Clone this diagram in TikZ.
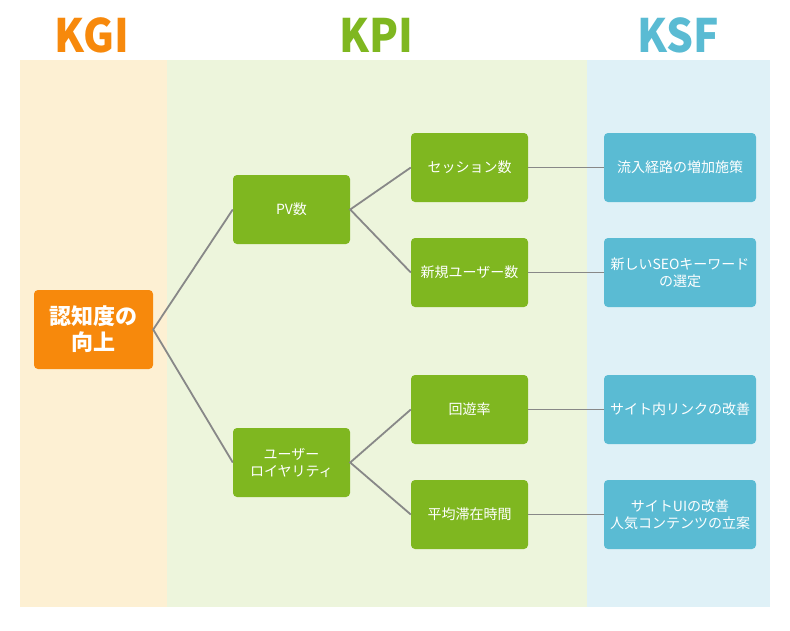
\documentclass[tikz,border=0pt]{standalone}
\usepackage{fontspec}
\setmainfont{Noto Sans CJK JP}
\newfontfamily\cjk{Noto Sans CJK JP}
\definecolor{kgi}{HTML}{F7890C}
\definecolor{kpi}{HTML}{7FB720}
\definecolor{ksf}{HTML}{5ABBD3}
\definecolor{kgibg}{HTML}{FDF0D3}
\definecolor{kpibg}{HTML}{EDF5DC}
\definecolor{ksfbg}{HTML}{DFF1F7}
\definecolor{conn}{HTML}{888888}
\begin{document}
\begin{tikzpicture}[x=1pt,y=-1pt,
  box/.style={rounded corners=4pt,text=white,align=center,inner sep=0pt,font=\cjk\fontsize{14}{17}\selectfont},
  kpibox/.style={box,fill=kpi,minimum width=117pt,minimum height=69pt},
  ksfbox/.style={box,fill=ksf,minimum width=152pt,minimum height=69pt},
  head/.style={font=\cjk\bfseries\fontsize{46}{46}\selectfont,xscale=0.92,inner sep=0pt},
  link/.style={draw=conn,line width=1.8pt}]
\useasboundingbox (0,0) rectangle (790,630);
\fill[kgibg] (20,60) rectangle (167,607);
\fill[kpibg] (167,60) rectangle (587,607);
\fill[ksfbg] (587,60) rectangle (770,607);
\node[head,text=kgi] (hkgi) at (92,35) {KGI};
\node[head,text=kpi] (hkpi) at (376,35) {KPI};
\node[head,text=ksf] (hksf) at (678,35) {KSF};
\node[box,fill=kgi,minimum width=119pt,minimum height=79pt,font=\cjk\bfseries\fontsize{22}{26}\selectfont] (g) at (93.5,329.5) {認知度の\\向上};
\node[kpibox] (pv) at (291.5,209.5) {PV数};
\node[kpibox] (ul) at (291.5,462.5) {ユーザー\\ロイヤリティ};
\node[kpibox] (s) at (469.5,167.5) {セッション数};
\node[kpibox] (n) at (469.5,272.5) {新規ユーザー数};
\node[kpibox] (r) at (469.5,409.5) {回遊率};
\node[kpibox] (t) at (469.5,514.5) {平均滞在時間};
\node[ksfbox] (k1) at (680,167.5) {流入経路の増加施策};
\node[ksfbox] (k2) at (680,272.5) {新しいSEOキーワード\\の選定};
\node[ksfbox] (k3) at (680,409.5) {サイト内リンクの改善};
\node[ksfbox] (k4) at (680,514.5) {サイトUIの改善\\人気コンテンツの立案};
\draw[link] (pv.west) -- (g.east) -- (ul.west);
\draw[link] (s.west) -- (pv.east) -- (n.west);
\draw[link] (r.west) -- (ul.east) -- (t.west);
\draw[link] (s) -- (k1);
\draw[link] (n) -- (k2);
\draw[link] (r) -- (k3);
\draw[link] (t) -- (k4);
\end{tikzpicture}
\end{document}
